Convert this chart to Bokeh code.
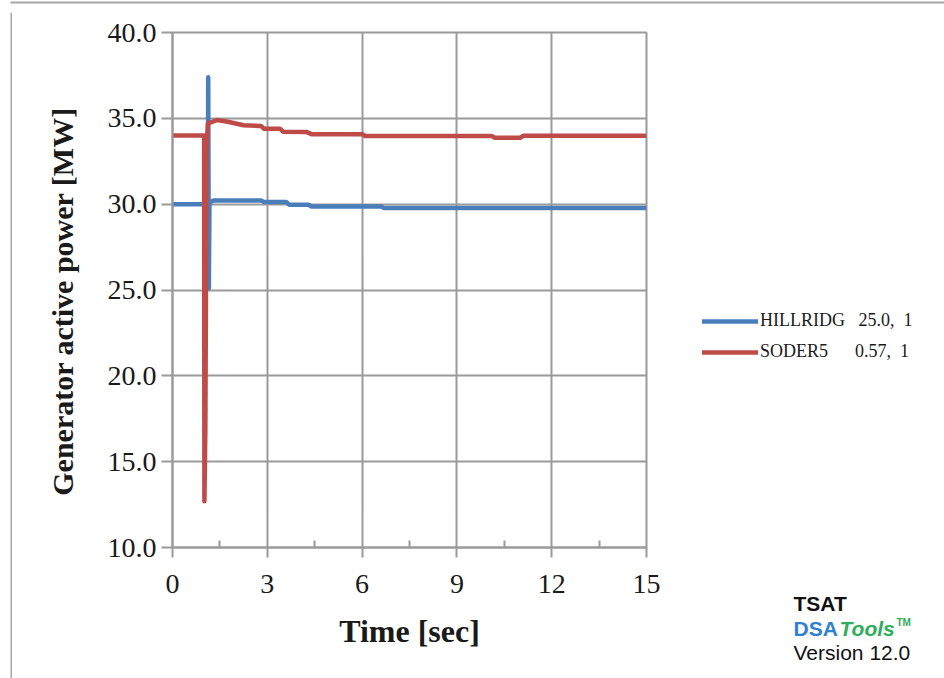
from bokeh.plotting import figure
from bokeh.layouts import row, column
from bokeh.models import (Range1d, FixedTicker, PrintfTickFormatter, Legend, LegendItem,
                          Label, BoxAnnotation)
from bokeh.embed import file_html
from bokeh.resources import INLINE

# ---- data ----
x_ticks = [0, 3, 6, 9, 12, 15]
x_minor = [1.5, 4.5, 7.5, 10.5, 13.5]
y_ticks = [10, 15, 20, 25, 30, 35, 40]

hill_t = [0.0, 1.12, 1.13, 1.15, 1.17, 1.3, 2.8, 2.9, 3.6, 3.7, 4.3, 4.4, 6.6, 6.7, 15.0]
hill_v = [30.0, 30.0, 37.4, 25.1, 30.1, 30.22, 30.22, 30.12, 30.12, 29.97, 29.97, 29.87,
          29.87, 29.77, 29.77]

soder_t = [0.0, 1.0, 1.01, 1.04, 1.08, 1.12, 1.4, 1.75, 2.25, 2.8, 2.9, 3.4, 3.5, 4.25,
           4.4, 6.0, 6.1, 10.1, 10.2, 11.0, 11.1, 15.0]
soder_v = [34.0, 34.0, 12.7, 17.0, 33.2, 34.7, 34.9, 34.8, 34.6, 34.55, 34.4, 34.4, 34.22,
           34.2, 34.08, 34.08, 33.97, 33.97, 33.87, 33.87, 33.98, 33.98]

hill_label = "HILLRIDG\u00a0\u00a0\u00a025.0,\u00a0\u00a01"
soder_label = "SODER5\u00a0\u00a0\u00a0\u00a0\u00a0\u00a00.57,\u00a0\u00a01"

BLUE = "#4a7ebb"
RED = "#be4b48"
GRID = "#9a9a9a"
FRAME = "#a6a6a6"
SERIF = "Liberation Serif"
SANS = "Liberation Sans"
LW = 4.5
TOP_H = 12
ROW_H = 678 - TOP_H


def no_align(f):
    try:
        f.frame_align = False
    except Exception:
        pass


def blank(w, h, xr, yr):
    f = figure(width=w, height=h, output_backend="svg", toolbar_location=None,
               x_axis_type=None, y_axis_type=None, x_range=xr, y_range=yr,
               min_border=0, min_border_left=0, min_border_right=0,
               min_border_top=0, min_border_bottom=0)
    f.outline_line_color = None
    no_align(f)
    return f


# ---- outer frame (top and left edges), coordinates = picture pixels ----
top_strip = blank(944, TOP_H, Range1d(0, 944), Range1d(TOP_H, 0))
top_strip.add_layout(BoxAnnotation(left=10, top=1, bottom=3, fill_color=FRAME,
                                   fill_alpha=1, line_color=None))
left_strip = blank(12, ROW_H, Range1d(0, 12), Range1d(678, TOP_H))
left_strip.add_layout(BoxAnnotation(left=10, right=12, fill_color=FRAME, fill_alpha=1,
                                    line_color=None))

# ---- main chart ----
p = figure(width=688, height=ROW_H, output_backend="svg", toolbar_location=None,
           x_range=Range1d(0, 15), y_range=Range1d(10, 40),
           min_border_left=160, min_border_right=54, min_border_top=32 - TOP_H,
           min_border_bottom=ROW_H - (32 - TOP_H) - 515)
no_align(p)
p.outline_line_color = GRID
p.outline_line_width = 2

rb = p.line(hill_t, hill_v, line_color=BLUE, line_width=LW, line_join="round")
rr = p.line(soder_t, soder_v, line_color=RED, line_width=LW, line_join="round")

p.xaxis.ticker = FixedTicker(ticks=x_ticks, minor_ticks=x_minor)
p.yaxis.ticker = FixedTicker(ticks=y_ticks)
p.yaxis.formatter = PrintfTickFormatter(format="%.1f")
for ax in (p.xaxis, p.yaxis):
    ax.axis_line_color = GRID
    ax.axis_line_width = 2
    ax.major_tick_line_color = GRID
    ax.major_tick_line_width = 2
    ax.major_tick_in = 0
    ax.major_label_text_font = SERIF
    ax.major_label_text_font_size = "28px"
    ax.major_label_text_color = "#1a1a1a"
    ax.axis_label_text_font = SERIF
    ax.axis_label_text_font_style = "bold"
    ax.axis_label_text_color = "#1a1a1a"
p.xaxis.major_tick_out = 10
p.xaxis.minor_tick_in = 7
p.xaxis.minor_tick_out = 0
p.xaxis.minor_tick_line_color = GRID
p.xaxis.minor_tick_line_width = 2
p.xaxis.major_label_standoff = 17
p.xaxis.axis_label = "Time [sec]"
p.xaxis.axis_label_text_font_size = "32px"
p.xaxis.axis_label_standoff = 17
p.yaxis.major_tick_out = 11
p.yaxis.minor_tick_line_color = None
p.yaxis.major_label_standoff = 5
p.yaxis.axis_label = "Generator active power [MW]\u00a0\u00a0\u00a0"
p.yaxis.axis_label_text_font_size = "30px"
p.yaxis.axis_label_standoff = 26

p.xgrid.ticker = FixedTicker(ticks=x_ticks)
p.ygrid.ticker = FixedTicker(ticks=y_ticks)
for g in (p.xgrid, p.ygrid):
    g.grid_line_color = GRID
    g.grid_line_width = 2

# ---- right side: legend and logo (coordinates = picture pixels) ----
side = blank(244, ROW_H, Range1d(700, 944), Range1d(678, TOP_H))
kb = side.line(hill_t[:1], hill_v[:1], line_color=BLUE, line_width=LW, line_cap="round")
kr = side.line(soder_t[:1], soder_v[:1], line_color=RED, line_width=LW, line_cap="round")
legend = Legend(items=[LegendItem(label=hill_label, renderers=[kb]),
                       LegendItem(label=soder_label, renderers=[kr])],
                location=(2, 316), padding=0, margin=0, border_line_color=None,
                background_fill_alpha=0, label_text_font=SERIF,
                label_text_font_size="18px", label_text_color="#1a1a1a",
                glyph_width=56, glyph_height=20, label_height=20,
                label_standoff=2, spacing=10)
side.add_layout(legend)


def lab(text, x, y, color, size, style="normal"):
    side.add_layout(Label(x=x, y=y, text=text, text_color=color, text_font=SANS,
                          text_font_size=size, text_font_style=style,
                          text_baseline="middle", text_align="left"))


lab("TSAT", 793, 603, "#111111", "21px", "bold")
lab("DSA", 793, 628, "#2f80d1", "21px", "bold")
lab("Tools", 839, 628, "#2fae5b", "21px", "bold italic")
lab("TM", 896, 622, "#2fae5b", "10px", "bold")
lab("Version 12.0", 793, 652, "#111111", "21px")

layout = column(top_strip, row(left_strip, p, side, spacing=0), spacing=0)
open("out.html", "w").write(file_html(layout, INLINE))
